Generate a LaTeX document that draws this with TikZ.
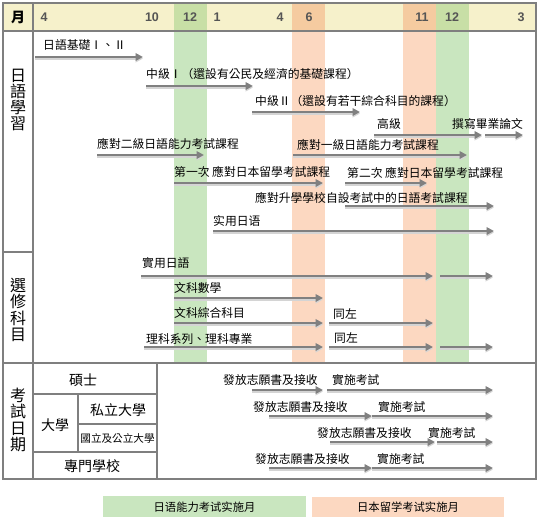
\documentclass[tikz,border=0pt]{standalone}
\usepackage{fontspec}
\setmainfont{Noto Sans CJK TC}
\newfontfamily\numfont{Liberation Sans}
\usetikzlibrary{arrows.meta}
\definecolor{framegray}{HTML}{7F7F7F}
\definecolor{arrgray}{HTML}{808080}
\definecolor{shadegray}{HTML}{D4D4D4}
\definecolor{hdryellow}{HTML}{F6F1CB}
\definecolor{bandgreen}{HTML}{C9E6BF}
\definecolor{bandorange}{HTML}{FCD8C1}
\definecolor{hdrgreen}{HTML}{C8DFA6}
\definecolor{hdrorange}{HTML}{F5CBA0}
\definecolor{numgray}{HTML}{555555}
\newcommand\tlarrow[4]{%
  \coordinate (#1s) at (#2,#4);
  \coordinate (#1e) at (#3,#4);
  \draw[arrshade] (#1s) -- (#1e);
  \draw[arr] (#1s) -- (#1e);}
\begin{document}
\begin{tikzpicture}[x=1pt,y=-1pt,
  frame/.style={draw=framegray,line width=1.8pt},
  gridline/.style={draw=framegray,line width=1.6pt},
  arr/.style={draw=arrgray,line width=2.4pt,-{Triangle[length=7.5pt,width=7.5pt]}},
  arrshade/.style={draw=shadegray,line width=2.4pt,-{Triangle[length=7.5pt,width=7.5pt]},transform canvas={yshift=-1.6pt}},
  lbl/.style={inner sep=0pt,anchor=base west,yshift=-4.5pt,font=\fontsize{11.8}{12}\selectfont},
  cell/.style={inner sep=0pt,anchor=base,yshift=-5.3pt,font=\fontsize{14}{14}\selectfont},
  smallcell/.style={inner sep=0pt,anchor=base,yshift=-4pt,font=\fontsize{10.6}{11}\selectfont},
  vlabel/.style={inner sep=0pt,align=center,font=\fontsize{16}{16.2}\selectfont},
  num/.style={inner sep=0pt,text=numgray,font=\numfont\bfseries\fontsize{12.5}{13}\selectfont},
  legend/.style={inner sep=0pt,font=\fontsize{11.3}{12}\selectfont}
]
\useasboundingbox (0,0) rectangle (554,531);
% header background
\fill[hdryellow] (3,3) rectangle (536,31);
% bands
\fill[hdrgreen] (174,3) rectangle (207,31);
\fill[bandgreen] (174,31) rectangle (207,363);
\fill[hdrorange] (292,3) rectangle (325,31);
\fill[bandorange] (292,31) rectangle (325,363);
\fill[hdrorange] (403,3) rectangle (436,31);
\fill[bandorange] (403,31) rectangle (436,363);
\fill[hdrgreen] (436,3) rectangle (469,31);
\fill[bandgreen] (436,31) rectangle (469,363);
% frame
\draw[frame] (3,3) rectangle (536,479);
\draw[frame] (3,31) -- (536,31);
\draw[frame] (33,3) -- (33,479);
\draw[frame] (3,252) -- (33,252);
\draw[frame] (3,363) -- (536,363);
% exam table grid
\draw[gridline] (157,363) -- (157,479);
\draw[gridline] (33,394) -- (157,394);
\draw[gridline] (78,394) -- (78,452);
\draw[gridline] (78,424) -- (157,424);
\draw[gridline] (33,452) -- (157,452);
% header
\node[inner sep=0pt,font=\bfseries\fontsize{14}{14}\selectfont] (hmon) at (18,17) {月};
\node[num] (h4a) at (44,17) {4};
\node[num] (h10) at (152,17) {10};
\node[num] (h12a) at (190,17) {12};
\node[num] (h1) at (217,17) {1};
\node[num] (h4b) at (280,17) {4};
\node[num] (h6) at (309,17) {6};
\node[num] (h11) at (422,17) {11};
\node[num] (h12b) at (452,17) {12};
\node[num] (h3) at (521,17) {3};
% left labels
\node[vlabel] (secA) at (18,100) {日\\語\\學\\習};
\node[vlabel] (secB) at (18,310) {選\\修\\科\\目};
\node[vlabel] (secC) at (18,420) {考\\試\\日\\期};
% Japanese study section
\node[lbl] (a1) at (43,45) {日語基礎Ⅰ、Ⅱ};
\tlarrow{a1}{35}{143}{57}
\node[lbl] (a2) at (146,74) {中級Ⅰ（還設有公民及經濟的基礎課程）};
\tlarrow{a2}{146}{253}{86}
\node[lbl] (a3) at (255,101) {中級Ⅱ（還設有若干綜合科目的課程）};
\tlarrow{a3}{252}{360}{112}
\node[lbl] (a4) at (377,124) {高級};
\tlarrow{a4}{374}{482}{135}
\node[lbl] (a5) at (452,124) {撰寫畢業論文};
\tlarrow{a5}{485}{523}{135}
\node[lbl] (a6) at (97,144) {應對二級日語能力考試課程};
\tlarrow{a6}{97}{204}{155}
\node[lbl] (a7) at (297,145) {應對一級日語能力考試課程};
\tlarrow{a7}{293}{467}{155}
\node[lbl] (a8) at (174,172) {第一次 應對日本留學考試課程};
\tlarrow{a8}{174}{323}{183}
\node[lbl] (a9) at (347,173) {第二次 應對日本留學考試課程};
\tlarrow{a9}{345}{427}{183}
\node[lbl] (a10) at (255,198) {應對升學學校自設考試中的日語考試課程};
\tlarrow{a10}{345}{494}{206}
\node[lbl] (a11) at (213,221) {实用日语};
\tlarrow{a11}{213}{494}{231}
% elective section
\node[lbl] (b1) at (142,263) {實用日語};
\tlarrow{b1a}{141}{433}{276}
\tlarrow{b1b}{440}{493}{276}
\node[lbl] (b2) at (174,288) {文科數學};
\tlarrow{b2}{174}{323}{298}
\node[lbl] (b3) at (174,313) {文科綜合科目};
\tlarrow{b3a}{174}{323}{323}
\node[lbl] (b3s) at (333,314) {同左};
\tlarrow{b3b}{329}{433}{323}
\node[lbl] (b4) at (146,339) {理科系列、理科專業};
\tlarrow{b4a}{144}{323}{347}
\node[lbl] (b4s) at (334,338) {同左};
\tlarrow{b4b}{329}{433}{347}
\tlarrow{b4c}{440}{493}{347}
% exam table labels
\node[cell] (c1) at (83,380) {碩士};
\node[cell] (c2) at (55,425) {大學};
\node[cell] (c3) at (118,410) {私立大學};
\node[smallcell] (c4) at (117.5,438) {國立及公立大學};
\node[cell] (c5) at (92,466) {專門學校};
% exam rows
\node[lbl] (d1) at (223,380) {發放志願書及接收};
\node[lbl] (d1s) at (332,380) {實施考試};
\tlarrow{d1a}{252}{323}{390}
\tlarrow{d1b}{327}{493}{390}
\node[lbl] (d2) at (253,407) {發放志願書及接收};
\node[lbl] (d2s) at (378,407) {實施考試};
\tlarrow{d2a}{269}{372}{416}
\tlarrow{d2b}{372}{493}{416}
\node[lbl] (d3) at (317,433) {發放志願書及接收};
\node[lbl] (d3s) at (428,433) {實施考試};
\tlarrow{d3a}{330}{435}{442}
\tlarrow{d3b}{437}{493}{442}
\node[lbl] (d4) at (255,459) {發放志願書及接收};
\node[lbl] (d4s) at (377,459) {實施考試};
\tlarrow{d4a}{269}{372}{468}
\tlarrow{d4b}{372}{493}{468}
% legend
\fill[bandgreen] (103,496) rectangle (306,517);
\node[legend] (lg1) at (204.5,507) {日语能力考试实施月};
\fill[bandorange] (312,497) rectangle (504,517);
\node[legend] (lg2) at (408,507) {日本留学考试实施月};
\end{tikzpicture}
\end{document}
